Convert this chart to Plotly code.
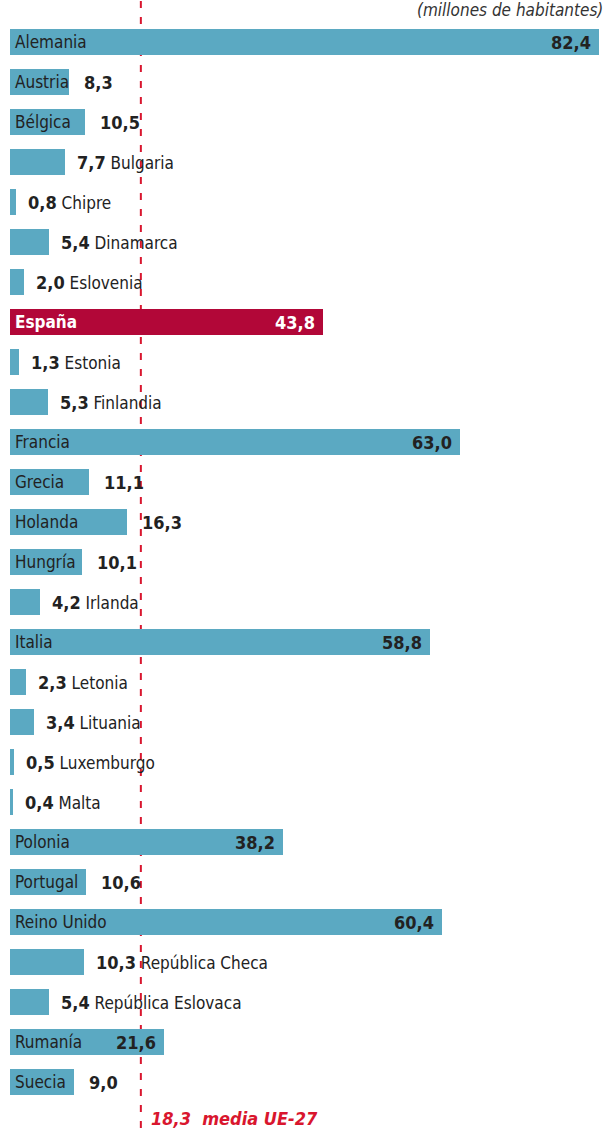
import plotly.graph_objects as go

countries = ["Alemania", "Austria", "Bélgica", "Bulgaria", "Chipre", "Dinamarca", "Eslovenia",
             "España", "Estonia", "Finlandia", "Francia", "Grecia", "Holanda", "Hungría", "Irlanda",
             "Italia", "Letonia", "Lituania", "Luxemburgo", "Malta", "Polonia", "Portugal",
             "Reino Unido", "República Checa", "República Eslovaca", "Rumanía", "Suecia"]
population = [82.4, 8.3, 10.5, 7.7, 0.8, 5.4, 2.0, 43.8, 1.3, 5.3, 63.0, 11.1, 16.3, 10.1, 4.2,
              58.8, 2.3, 3.4, 0.5, 0.4, 38.2, 10.6, 60.4, 10.3, 5.4, 21.6, 9.0]
# label placement: "in" = name and value inside, "mid" = name inside / value outside,
# "out" = value and name after the bar
label_mode = ["in", "mid", "mid", "out", "out", "out", "out", "in", "out", "out", "in", "mid", "mid",
              "mid", "out", "in", "out", "out", "out", "out", "in", "mid", "in", "out", "out", "in", "mid"]
eu_mean = 18.3
mean_label = "18,3  media UE-27"
unit_label = "(millones de habitantes)"
highlight = "España"

BLUE = "#5ba9c2"
RED_BAR = "#b20738"
RED = "#d9162e"
DARK = "#222222"
FONT = "DejaVu Sans Condensed, DejaVu Sans, sans-serif"
FS = 17
FSV = 18

W, H = 607, 1128
px_per_unit = 7.15
idx = list(range(len(countries)))

def fmt(v):
    return f"{v:.1f}".replace(".", ",")

colors = [RED_BAR if c == highlight else BLUE for c in countries]

fig = go.Figure()
fig.add_trace(go.Bar(x=population, y=idx, orientation="h", width=0.65,
                     marker=dict(color=colors, line=dict(width=0)), hoverinfo="skip"))

ann = []
for i, (c, v, m) in enumerate(zip(countries, population, label_mode)):
    tcol = "white" if c == highlight else DARK
    name_txt = f"<b>{c}</b>" if c == highlight else c
    if m in ("in", "mid"):
        ann.append(dict(x=0, y=i, xref="x", yref="y", text=name_txt, showarrow=False,
                        xanchor="left", yanchor="middle", xshift=3,
                        font=dict(family=FONT, size=FS, color=tcol)))
    if m == "in":
        ann.append(dict(x=v, y=i, xref="x", yref="y", text=f"<b>{fmt(v)}</b>", showarrow=False,
                        xanchor="right", yanchor="middle", xshift=-6,
                        font=dict(family=FONT, size=FSV, color=tcol)))
    elif m == "mid":
        ann.append(dict(x=v, y=i, xref="x", yref="y", text=f"<b>{fmt(v)}</b>", showarrow=False,
                        xanchor="left", yanchor="middle", xshift=13,
                        font=dict(family=FONT, size=FSV, color=tcol)))
    else:
        ann.append(dict(x=v, y=i, xref="x", yref="y",
                        text=f"<b><span style='font-size:{FSV}px'>{fmt(v)}</span></b> {c}",
                        showarrow=False, xanchor="left", yanchor="middle", xshift=10,
                        font=dict(family=FONT, size=FS, color=tcol)))

ann.append(dict(x=1, y=1, xref="paper", yref="paper", text=f"<i>{unit_label}</i>", showarrow=False,
                xanchor="right", yanchor="top", xshift=-2, yshift=2,
                font=dict(family=FONT, size=FS, color="#333333")))
ann.append(dict(x=eu_mean, y=0, xref="x", yref="paper", text=f"<b><i>{mean_label}</i></b>", showarrow=False,
                xanchor="left", yanchor="middle", xshift=8, yshift=10,
                font=dict(family=FONT, size=FSV, color=RED)))

fig.add_shape(type="line", x0=eu_mean, x1=eu_mean, xref="x", y0=0, y1=1, yref="paper",
              line=dict(color=RED, width=2, dash="7px,9px"), layer="below")

fig.update_layout(
    width=W, height=H,
    margin=dict(l=10, r=0, t=0, b=0),
    paper_bgcolor="white", plot_bgcolor="white",
    showlegend=False, bargap=0,
    xaxis=dict(range=[0, (W - 10) / px_per_unit], visible=False, fixedrange=True),
    yaxis=dict(range=[27.15, -1.05], visible=False, fixedrange=True),
    annotations=ann,
)

fig.write_html("out.html", config={"displayModeBar": False},
               post_script="document.body.style.margin='0px';document.body.style.overflow='hidden';")
